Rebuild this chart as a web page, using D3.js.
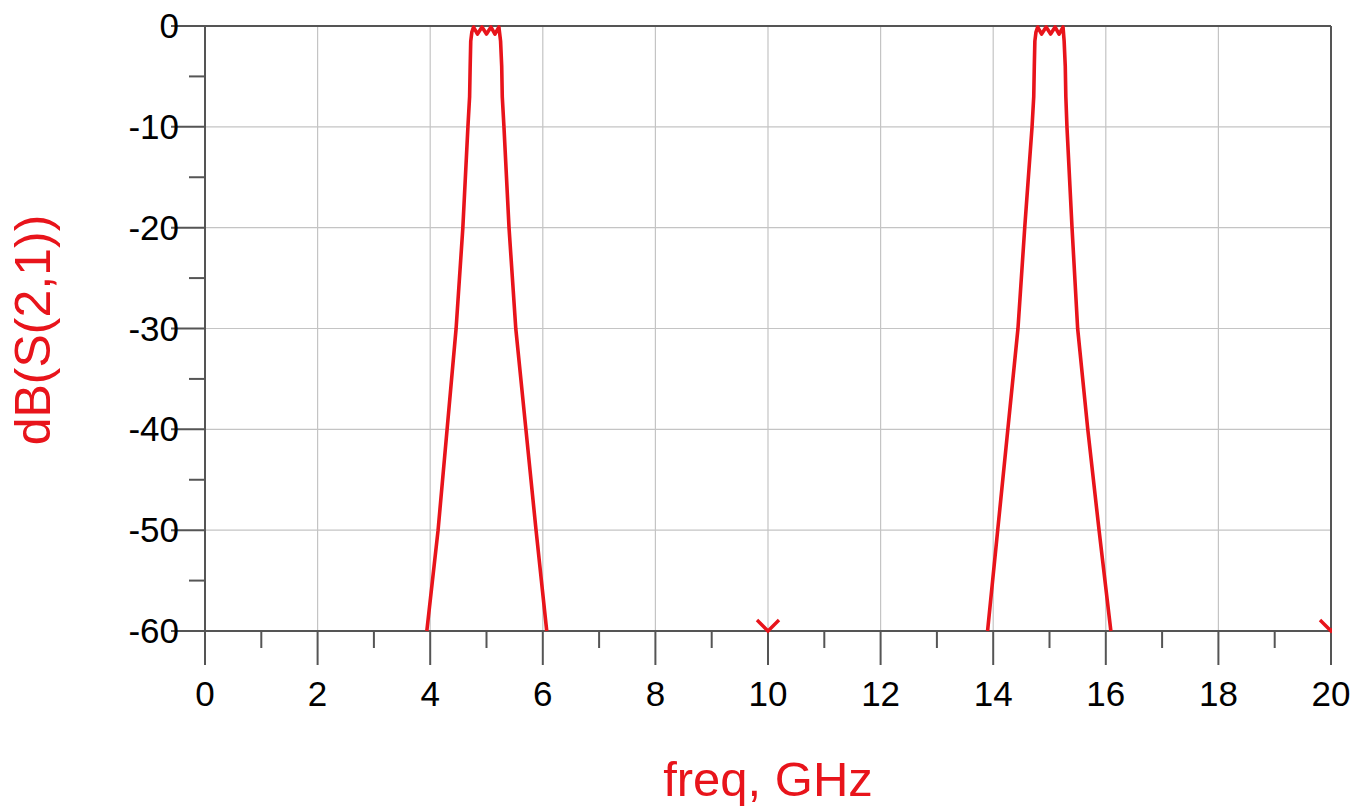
<!DOCTYPE html>
<html>
<head>
<meta charset="utf-8">
<script src="https://cdn.jsdelivr.net/npm/d3@7"></script>
<style>
  html, body { margin: 0; padding: 0; background: #fff; }
  svg { display: block; }
  text { font-family: "Liberation Sans", Arial, sans-serif; }
</style>
</head>
<body>
<svg id="chart" width="1356" height="808"></svg>
<script>
// ---- data ----
const xTicks = [0, 2, 4, 6, 8, 10, 12, 14, 16, 18, 20];
const xMinorTicks = [1, 3, 5, 7, 9, 11, 13, 15, 17, 19];
const yTicks = [0, -10, -20, -30, -40, -50, -60];
const yMinorTicks = [-5, -15, -25, -35, -45, -55];

const band1Freq = [3.94, 4.14, 4.30, 4.46, 4.58, 4.67, 4.70, 4.71, 4.72, 4.74, 4.77, 4.84, 4.92, 5.00, 5.08, 5.15, 5.22, 5.25, 5.27, 5.28, 5.31, 5.40, 5.52, 5.70, 5.88, 6.07];
const band1dB   = [-60, -50, -40, -30, -20, -10, -7, -4, -1.5, -0.6, -0.1, -0.8, -0.1, -0.8, -0.1, -0.8, -0.1, -1.5, -4, -7, -10, -20, -30, -40, -50, -60];

const band2Freq = [13.90, 14.08, 14.26, 14.44, 14.56, 14.69, 14.72, 14.73, 14.74, 14.76, 14.79, 14.86, 14.94, 15.02, 15.10, 15.17, 15.24, 15.26, 15.28, 15.29, 15.31, 15.40, 15.50, 15.68, 15.88, 16.09];
const band2dB   = [-60, -50, -40, -30, -20, -10, -7, -4, -1.5, -0.6, -0.1, -0.8, -0.1, -0.8, -0.1, -0.8, -0.1, -1.5, -4, -7, -10, -20, -30, -40, -50, -60];

// off-scale markers (values below the axis minimum)
const offScaleFreq = [10, 20];
const offScaledB = [-60, -60];

const xLabel = "freq, GHz";
const yLabel = "dB(S(2,1))";

// ---- layout ----
const svg = d3.select("#chart");
const L = 205, R = 1331, T = 26, B = 631;
const x = d3.scaleLinear().domain([0, 20]).range([L, R]);
const y = d3.scaleLinear().domain([-60, 0]).range([B, T]);

const gridColor = "#c4c4c4";
const axisColor = "#555";
const red = "#e8141b";
const tickFont = 35;

// clip
svg.append("defs").append("clipPath").attr("id", "plotclip")
  .append("rect").attr("x", L).attr("y", T - 3).attr("width", R - L).attr("height", B - T + 5);

// gridlines
svg.append("g").selectAll("line").data(xTicks.slice(1, -1)).join("line")
  .attr("x1", d => x(d)).attr("x2", d => x(d)).attr("y1", T).attr("y2", B)
  .attr("stroke", gridColor).attr("stroke-width", 1.2);
svg.append("g").selectAll("line").data(yTicks.slice(1, -1)).join("line")
  .attr("x1", L).attr("x2", R).attr("y1", d => y(d)).attr("y2", d => y(d))
  .attr("stroke", gridColor).attr("stroke-width", 1.2);

// frame: top & right
svg.append("line").attr("x1", L).attr("x2", R).attr("y1", T).attr("y2", T)
  .attr("stroke", axisColor).attr("stroke-width", 2);
svg.append("line").attr("x1", R).attr("x2", R).attr("y1", T).attr("y2", B)
  .attr("stroke", axisColor).attr("stroke-width", 2);

// x axis line (extends left past y axis)
svg.append("line").attr("x1", 171).attr("x2", R).attr("y1", B).attr("y2", B)
  .attr("stroke", axisColor).attr("stroke-width", 2);
// y axis line (extends below x axis)
svg.append("line").attr("x1", L).attr("x2", L).attr("y1", T).attr("y2", 665)
  .attr("stroke", axisColor).attr("stroke-width", 2);

// x ticks
const gx = svg.append("g");
gx.selectAll("line.maj").data(xTicks).join("line").attr("class", "maj")
  .attr("x1", d => x(d)).attr("x2", d => x(d)).attr("y1", B).attr("y2", B + 34)
  .attr("stroke", axisColor).attr("stroke-width", 2);
gx.selectAll("line.min").data(xMinorTicks).join("line").attr("class", "min")
  .attr("x1", d => x(d)).attr("x2", d => x(d)).attr("y1", B).attr("y2", B + 17)
  .attr("stroke", axisColor).attr("stroke-width", 2);
gx.selectAll("text").data(xTicks).join("text")
  .attr("x", d => x(d)).attr("y", 706)
  .attr("text-anchor", "middle").attr("font-size", tickFont).attr("fill", "#000")
  .text(d => d3.format("d")(d));

// y ticks
const gy = svg.append("g");
gy.selectAll("line.maj").data(yTicks).join("line").attr("class", "maj")
  .attr("x1", 171).attr("x2", L).attr("y1", d => y(d)).attr("y2", d => y(d))
  .attr("stroke", axisColor).attr("stroke-width", 2);
gy.selectAll("line.min").data(yMinorTicks).join("line").attr("class", "min")
  .attr("x1", 189).attr("x2", L).attr("y1", d => y(d)).attr("y2", d => y(d))
  .attr("stroke", axisColor).attr("stroke-width", 2);
gy.selectAll("text").data(yTicks).join("text")
  .attr("x", 179).attr("y", d => y(d) + 12)
  .attr("text-anchor", "end").attr("font-size", tickFont).attr("fill", "#000")
  .text(d => d === 0 ? "0" : "-" + Math.abs(d));

// curves
const line = d3.line().x(d => x(d[0])).y(d => y(d[1]));
const plot = svg.append("g").attr("clip-path", "url(#plotclip)");
[[band1Freq, band1dB], [band2Freq, band2dB]].forEach(([f, v]) => {
  plot.append("path").datum(f.map((fv, i) => [fv, v[i]]))
    .attr("d", line).attr("fill", "none").attr("stroke", red)
    .attr("stroke-width", 3.6).attr("stroke-linejoin", "round");
});

// off-scale V markers
svg.append("defs").append("clipPath").attr("id", "mclip")
  .append("rect").attr("x", 0).attr("y", 0).attr("width", R + 1).attr("height", 808);
svg.append("g").attr("clip-path", "url(#mclip)").selectAll("path")
  .data(offScaleFreq.map((f, i) => [f, offScaledB[i]])).join("path")
  .attr("d", d => {
    const cx = x(d[0]), cy = y(d[1]);
    return `M${cx - 11},${cy - 11} L${cx},${cy} L${cx + 11},${cy - 11}`;
  })
  .attr("fill", "none").attr("stroke", red).attr("stroke-width", 3.4);

// axis titles
svg.append("text").attr("x", 768).attr("y", 796)
  .attr("text-anchor", "middle").attr("font-size", 49).attr("fill", red)
  .text(xLabel);
svg.append("text").attr("transform", `translate(50, 330) rotate(-90)`)
  .attr("text-anchor", "middle").attr("font-size", 50).attr("fill", red)
  .text(yLabel);
</script>
</body>
</html>
